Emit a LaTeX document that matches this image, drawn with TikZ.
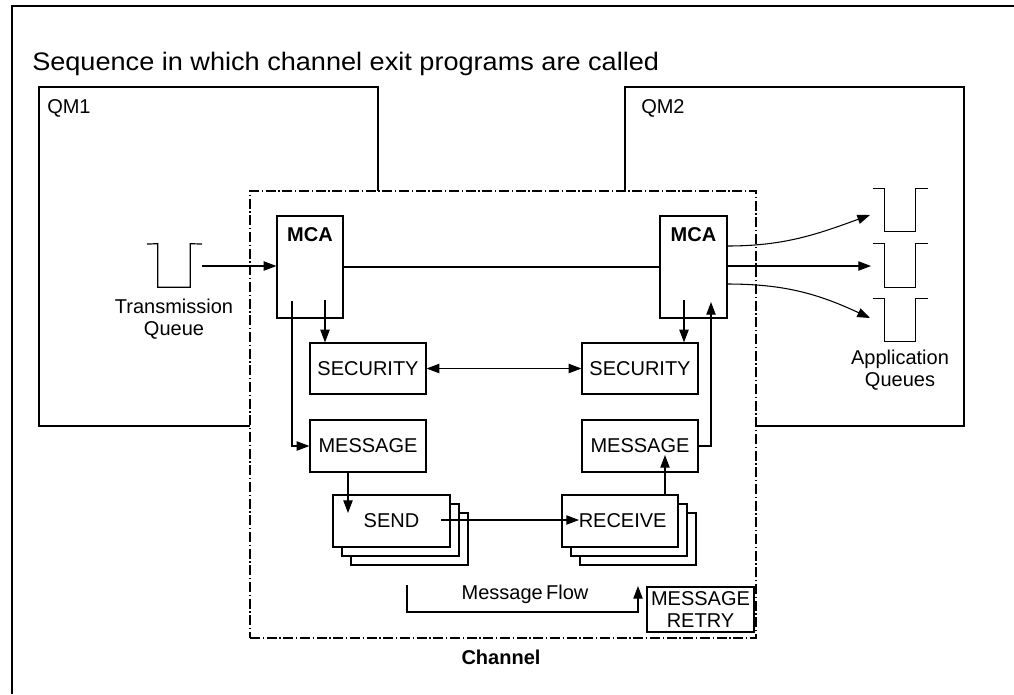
\documentclass[tikz,border=0pt]{standalone}
\usepackage{fontspec}
\setmainfont{Liberation Sans}
\newfontfamily\titlefont[FakeStretch=1.07]{Liberation Sans}
\usetikzlibrary{arrows.meta,fit}

\begin{document}
\begin{tikzpicture}[x=0.75pt,y=-0.75pt,
  every node/.style={font=\fontsize{15}{16.5}\selectfont},
  lbl/.style={inner sep=0pt},
  boldlbl/.style={inner sep=0pt, font=\bfseries\fontsize{15}{16.5}\selectfont},
  box/.style={draw, line width=0.9pt, fill=white, inner sep=0pt},
  qmbox/.style={draw, line width=0.9pt, inner sep=0pt},
  chanbox/.style={draw, line width=0.8pt, fill=white, inner sep=0pt,
    dash pattern=on 7.5pt off 2pt on 1pt off 2pt},
  queue/.style={line width=0.9pt},
  tip/.tip={Triangle[length=9.5pt,width=7pt]},
  arr/.style={line width=0.8pt, -tip},
  dblarr/.style={line width=0.8pt, tip-tip},
  link/.style={line width=0.8pt}
]
\useasboundingbox (0,0) rectangle (1014,694);

% frame (left and top edges)
\draw[line width=1.6pt] (12,694) -- (12,6) -- (1014,6);

% heading
\node[lbl, anchor=base west, font=\titlefont\fontsize{19}{22}\selectfont] (title) at (32,70)
  {Sequence in which channel exit programs are called};

% queue managers
\node[qmbox, fit={(39,87) (378,426)}] (qm1) {};
\node[qmbox, fit={(625,87) (964,426)}] (qm2) {};
\node[lbl, anchor=base west] (qm1lbl) at (47,113) {QM1};
\node[lbl, anchor=base west] (qm2lbl) at (641,113) {QM2};

% channel
\node[chanbox, fit={(250,191) (756,638)}] (chan) {};
\node[boldlbl, anchor=base] (chanlbl) at (501,664) {Channel};

% message channel agents
\node[box, fit={(277,216) (343,318)}] (mca1) {};
\node[box, fit={(660,216) (727,318)}] (mca2) {};
\node[boldlbl, anchor=base] (mca1lbl) at (310,241) {MCA};
\node[boldlbl, anchor=base] (mca2lbl) at (693.5,241) {MCA};

% exit boxes
\node[box, fit={(310,343) (426,394)}, label=center:SECURITY] (sec1) {};
\node[box, fit={(582,343) (698,394)}, label=center:SECURITY] (sec2) {};
\node[box, fit={(310,420) (426,472)}, label=center:MESSAGE] (msg1) {};
\node[box, fit={(582,420) (698,472)}, label=center:MESSAGE] (msg2) {};

% stacked send / receive exits
\node[box, fit={(351,513) (468,565)}] (send3) {};
\node[box, fit={(342,504) (459,556)}] (send2) {};
\node[box, fit={(333,495) (450,547)}, label=center:SEND] (send) {};
\node[box, fit={(580,513) (696,565)}] (recv3) {};
\node[box, fit={(571,504) (687,556)}] (recv2) {};
\node[box, fit={(562,495) (678,547)}, label={[xshift=2pt]center:RECEIVE}] (recv) {};

% message retry exit
\node[box, fit={(647,587) (754,632)},
  label={[align=center]center:{MESSAGE\\RETRY}}] (retry) {};

% transmission queue
\node[inner sep=0pt, fit={(158,244) (190,287)}] (tq) {};
\draw[queue] (147,244) -- (tq.north west) -- (tq.south west) -- (tq.south east) -- (tq.north east) -- (202,244);
\node[lbl, align=center] (tqlbl) at (174,319) {Transmission\\Queue};

% application queues
\node[inner sep=0pt, fit={(885,189) (915,231)}] (aq1) {};
\node[inner sep=0pt, fit={(885,244) (915,287)}] (aq2) {};
\node[inner sep=0pt, fit={(885,299) (915,341)}] (aq3) {};
\foreach \q in {aq1,aq2,aq3}{
  \draw[queue] ([xshift=-9pt]\q.north west) -- (\q.north west) -- (\q.south west)
    -- (\q.south east) -- (\q.north east) -- ([xshift=9.5pt]\q.north east);
}
\node[lbl, align=center] (aqlbl) at (900,370) {Application\\Queues};

% connector end points
\coordinate (tqout) at (202,266);
\coordinate (m1a) at (292,301);
\coordinate (m1b) at (325,300);
\coordinate (m2a) at (684,300);
\coordinate (m2b) at (711,302);
\coordinate (s1in) at (348,513);
\coordinate (sendout) at (441,520);
\coordinate (recvin) at (579,520);
\coordinate (m2in) at (665,455);
\coordinate (mfstart) at (407,585);
\coordinate (mfend) at (638,586);
\coordinate (o1) at (727,246);
\coordinate (o2) at (727,266);
\coordinate (o3) at (727,284);
\coordinate (aq1in) at (870,215);
\coordinate (aq2in) at (871,266);
\coordinate (aq3in) at (870,318);

% connectors
\draw[arr] (tqout) -- (tqout -| mca1.west);
\draw[link] (mca1.east) -- (mca2.west);
\draw[arr] (m1a) |- (msg1.west);
\draw[arr] (m1b) -- (m1b |- sec1.north);
\draw[dblarr] (sec1.east) -- (sec2.west);
\draw[arr] (m2a) -- (m2a |- sec2.north);
\draw[arr] (msg2.east) -| (m2b);
\draw[arr] (msg1.south -| s1in) -- (s1in);
\draw[arr] (sendout) -- (recvin);
\draw[arr] (recv.north -| m2in) -- (m2in);
\draw[arr] (mfstart) -- (407,612) -| (mfend);
\node[lbl, anchor=base] (mflbl) at (525,599) {Message\,Flow};

\draw[arr] (o1) to[out=0, in=200] (aq1in);
\draw[arr] (o2) -- (aq2in);
\draw[arr] (o3) to[out=0, in=155] (aq3in);
\end{tikzpicture}
\end{document}
